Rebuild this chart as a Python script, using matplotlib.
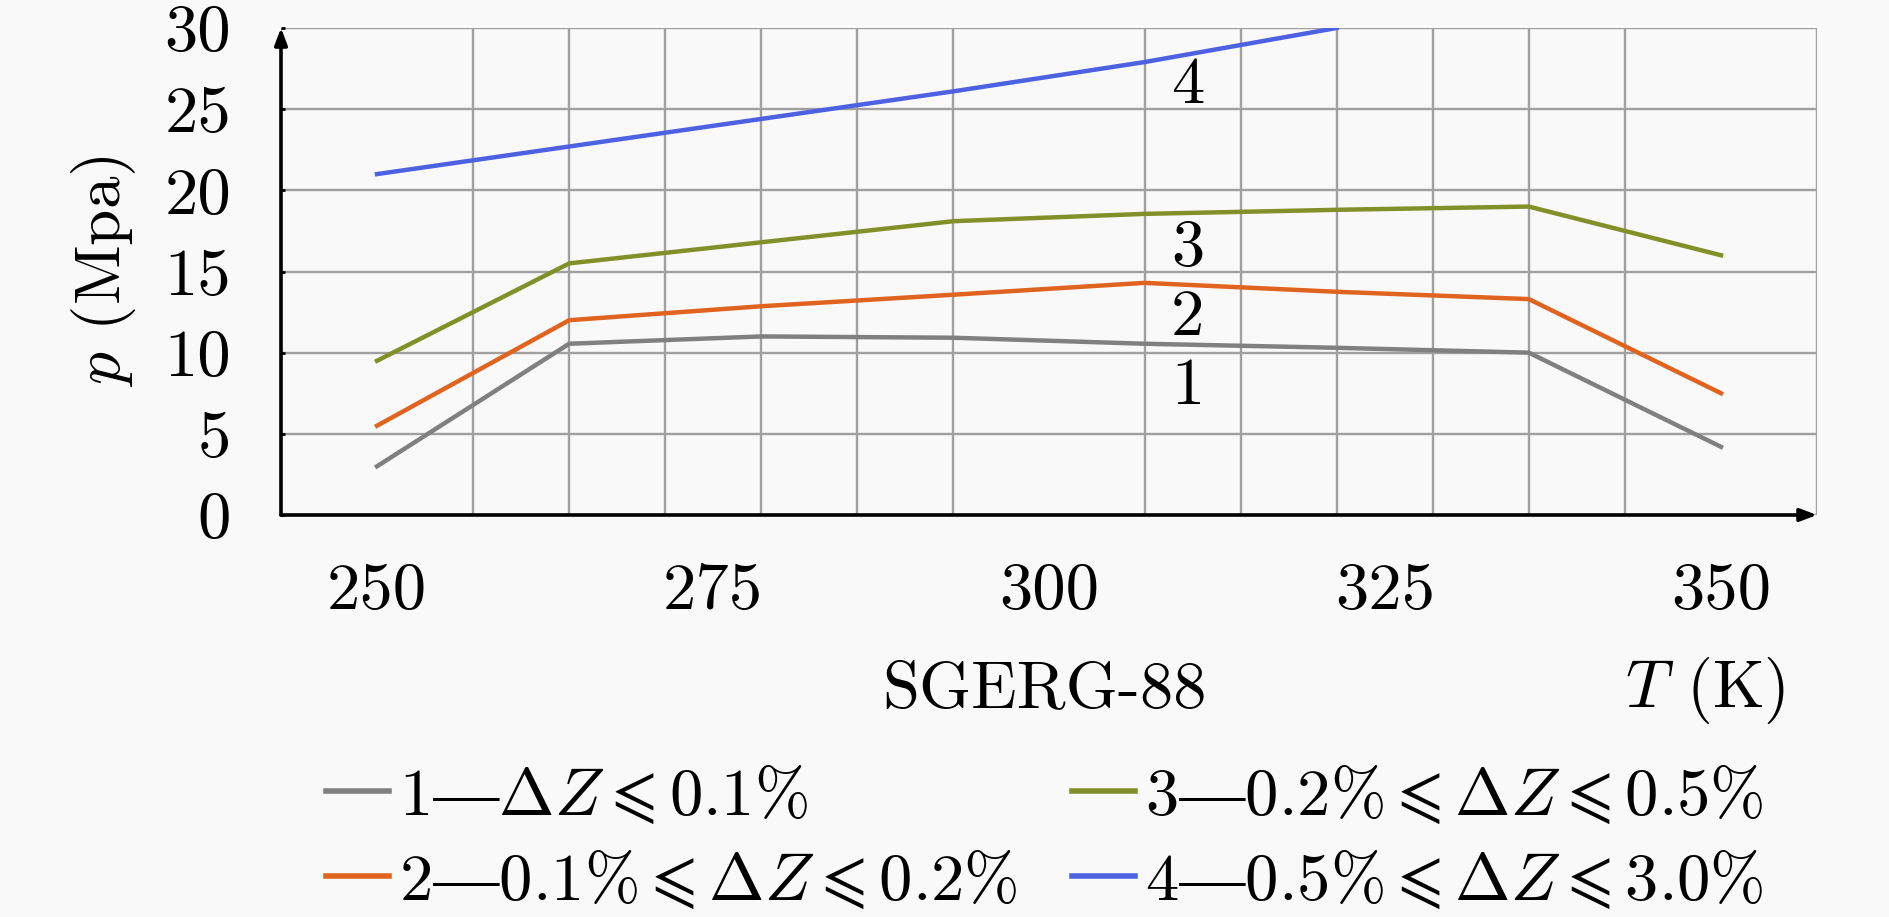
import matplotlib
matplotlib.use("Agg")
import matplotlib.pyplot as plt
from matplotlib.lines import Line2D

plt.rcParams['font.family'] = ['cmr10', 'DejaVu Serif']
plt.rcParams['mathtext.fontset'] = 'cm'
plt.rcParams['axes.unicode_minus'] = False
plt.rcParams['axes.formatter.use_mathtext'] = True

# ---- data ----
T = [250, 264.3, 278.6, 292.9, 307.1, 321.4, 335.7, 350]
s1 = [3.0, 10.55, 11.0, 10.92, 10.55, 10.3, 10.0, 4.2]
s2 = [5.5, 12.0, 12.86, 13.57, 14.3, 13.75, 13.3, 7.5]
s3 = [9.5, 15.5, 16.8, 18.1, 18.55, 18.8, 19.0, 16.0]
T4 = [250, 264.3, 278.6, 292.9, 307.1, 321.4]
s4 = [21.0, 22.7, 24.4, 26.1, 27.9, 30.0]

labels = [r'1$—\Delta Z\leqslant$0.1%',
          r'2$—$0.1%$\leqslant\Delta Z\leqslant$0.2%',
          r'3$—$0.2%$\leqslant\Delta Z\leqslant$0.5%',
          r'4$—$0.5%$\leqslant\Delta Z\leqslant$3.0%']
colors = ['#808080', '#E0641F', '#82902A', '#4D62E2']

curve_tags = ['1', '2', '3', '4']
tag_x = 310.3
tag_y = [7.85, 12.15, 16.4, 26.4]

xticks = [250, 275, 300, 325, 350]
yticks = [0, 5, 10, 15, 20, 25, 30]

bg = '#f9f9f9'
fs = 48

fig = plt.figure(figsize=(18.9, 9.17), dpi=100, facecolor=bg)
ax = fig.add_axes([281/1890, 1-515/917, (1817-281)/1890, (515-28)/917])
ax.set_facecolor(bg)

step = 100/14
ax.set_xlim(250 - step, 350 + step)
ax.set_ylim(0, 30)

series = [(T, s1), (T, s2), (T, s3), (T4, s4)]
for (xx, yy), c, lab in zip(series, colors, labels):
    ax.plot(xx, yy, color=c, lw=3.2, label=lab, solid_joinstyle='miter', zorder=3)

# grid
gx = [250 + k*step for k in range(-1, 16)]
ax.set_xticks(gx, minor=True)
ax.set_xticks(xticks)
ax.set_xticklabels([str(v) for v in xticks], fontsize=fs)
ax.set_yticks(yticks)
ax.set_yticklabels([str(v) for v in yticks], fontsize=fs)
ax.grid(which='minor', axis='x', color='#a0a0a0', lw=1.7)
ax.grid(which='major', axis='y', color='#a0a0a0', lw=1.7)
ax.grid(which='major', axis='x', visible=False)
ax.tick_params(axis='x', which='both', length=0, pad=34)
ax.tick_params(axis='y', length=3, width=2, direction='in', pad=36)
for s in ax.spines.values():
    s.set_visible(False)

# axis arrows
arrow = dict(arrowstyle='-|>,head_length=1.0,head_width=0.38', color='black', lw=2.6,
             shrinkA=0, shrinkB=0)
ax.annotate('', xy=(1.0, 0), xytext=(0, 0), xycoords='axes fraction',
            arrowprops=arrow, zorder=5, annotation_clip=False)
ax.annotate('', xy=(0, 1.0), xytext=(0, 0), xycoords='axes fraction',
            arrowprops=arrow, zorder=5, annotation_clip=False)

for t, y in zip(curve_tags, tag_y):
    ax.text(tag_x, y, t, fontsize=fs, ha='center', va='center', zorder=4)

ax.set_ylabel(r'$p$ (Mpa)', fontsize=47)
ax.yaxis.set_label_coords(-0.093, 0.5)

fig.text(1044/1890, 1-690/917, 'SGERG-88', fontsize=fs, ha='center', va='center')
fig.text(1785/1890, 1-690/917, r'$T$ (K)', fontsize=fs, ha='right', va='center')

handles = [Line2D([], [], color=c, lw=4) for c in colors]
leg_kw = dict(loc='upper left', frameon=False, fontsize=48, handlelength=0.95,
              handletextpad=0.15, labelspacing=0.34, borderpad=0, borderaxespad=0)
fig.legend(handles[:2], labels[:2], bbox_to_anchor=(326/1890, 1-765/917), **leg_kw)
fig.legend(handles[2:], labels[2:], bbox_to_anchor=(1072/1890, 1-765/917), **leg_kw)

fig.savefig('out.png', dpi=100, facecolor=bg)
